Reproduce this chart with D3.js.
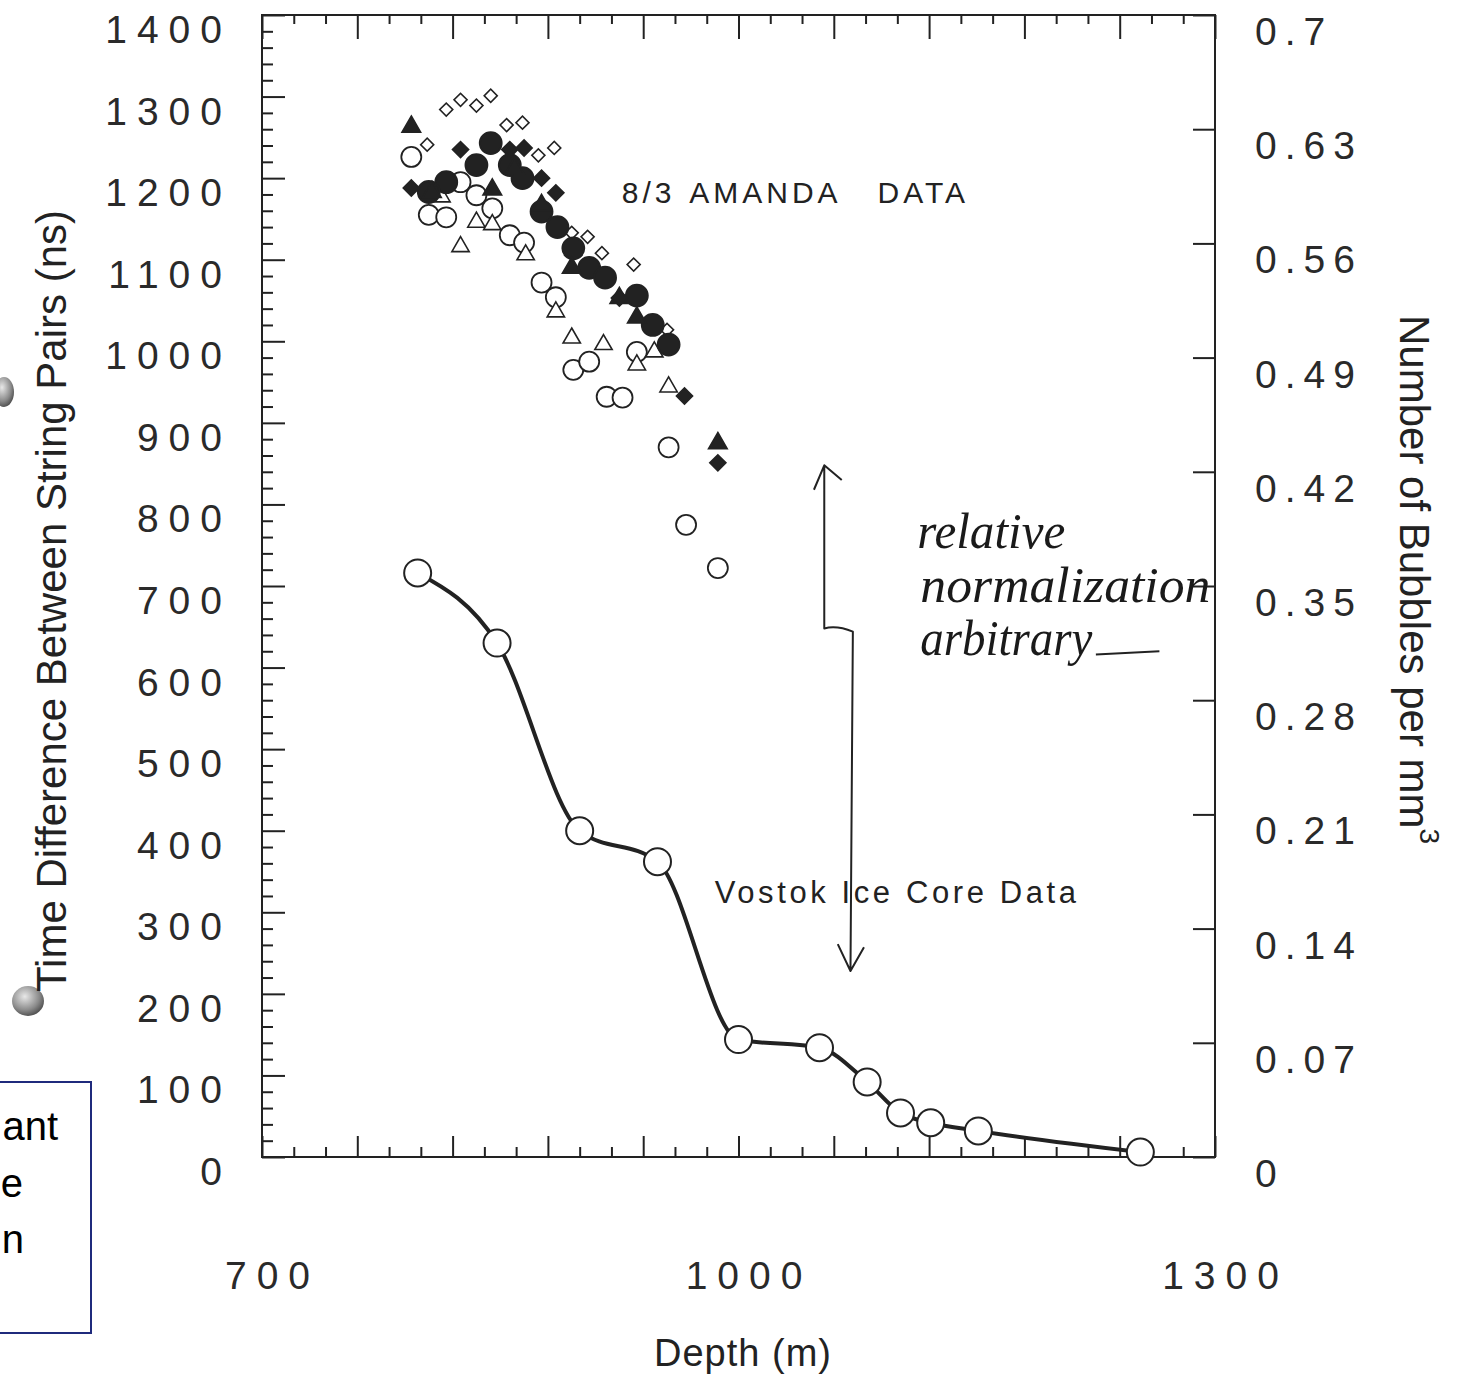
<!DOCTYPE html>
<html><head><meta charset="utf-8">
<script src="https://cdn.jsdelivr.net/npm/d3@7"></script>
<style>body{margin:0;background:#fff}svg{display:block}</style>
</head><body>
<script>
// ---------- data ----------
const depthTickLabels = [700, 1000, 1300];
const timeTickLabels = [0,100,200,300,400,500,600,700,800,900,1000,1100,1200,1300,1400];
const bubbleTickLabels = ["0","0.07","0.14","0.21","0.28","0.35","0.42","0.49","0.56","0.63","0.7"];

// Vostok ice core (bubbles per mm^3, right axis)
const vostokDepth   = [798, 848, 900, 949, 1000, 1051, 1081, 1102, 1121, 1151, 1253];
const vostokBubbles = [0.358, 0.315, 0.200, 0.181, 0.072, 0.067, 0.046, 0.027, 0.021, 0.016, 0.003];

// AMANDA 8/3 data (time difference, ns, left axis)
const openDiamondDepth = [816, 825, 835, 844, 804, 854, 864, 874, 884, 895, 905, 914, 934, 955];
const openDiamondNs    = [1284, 1296, 1289, 1301, 1241, 1265, 1268, 1228, 1237, 1133, 1128, 1108, 1094, 1014];

const filledDiamondDepth = [794, 825, 856, 865, 876, 885, 925, 966, 987];
const filledDiamondNs    = [1188, 1235, 1235, 1237, 1200, 1182, 1053, 933, 851];

const filledCircleDepth = [816, 805, 844, 835, 856, 864, 876, 886, 896, 906, 916, 936, 946, 956];
const filledCircleNs    = [1195, 1183, 1243, 1216, 1216, 1200, 1159, 1140, 1114, 1090, 1078, 1056, 1020, 996];

const filledTriangleDepth = [794, 807, 845, 859, 876, 895, 925, 936, 987];
const filledTriangleNs    = [1263, 1183, 1186, 1212, 1167, 1090, 1053, 1029, 875];

const openCircleDepth = [794, 805, 816, 825, 835, 845, 856, 865, 876, 885, 896, 906, 917, 927, 936, 956, 967, 987];
const openCircleNs    = [1226, 1155, 1152, 1195, 1179, 1163, 1130, 1121, 1072, 1054, 965, 975, 932, 931, 987, 870, 775, 722];

const openTriangleDepth = [813, 825, 835, 845, 866, 885, 895, 915, 936, 947, 956];
const openTriangleNs    = [1177, 1116, 1146, 1143, 1106, 1036, 1004, 996, 971, 987, 944];

// ---------- layout ----------
const W = 1460, H = 1376;
const ink = "#222";
const font = "'Liberation Sans', Arial, Helvetica, sans-serif";

const x  = d3.scaleLinear().domain([700, 1300]).range([262, 1215]);
const y  = d3.scaleLinear().domain([0, 1400]).range([1157, 15]);
const y2 = d3.scaleLinear().domain([0, 0.7]).range([1157, 15]);

const svg = d3.select("body").append("svg").attr("width", W).attr("height", H)
  .style("background", "#fff");

// scanner shading blobs at the left edge
const defs = svg.append("defs");
const rg = defs.append("radialGradient").attr("id", "blob").attr("cx", "40%").attr("cy", "35%").attr("r", "65%");
rg.append("stop").attr("offset", "0%").attr("stop-color", "#e8e8e8");
rg.append("stop").attr("offset", "70%").attr("stop-color", "#8a8a8a");
rg.append("stop").attr("offset", "100%").attr("stop-color", "#555");
svg.append("ellipse").attr("cx", 4).attr("cy", 392).attr("rx", 10).attr("ry", 15).attr("fill", "url(#blob)");
svg.append("ellipse").attr("cx", 28).attr("cy", 1001).attr("rx", 16).attr("ry", 15).attr("fill", "url(#blob)");

// frame
svg.append("rect")
  .attr("x", x(700)).attr("y", y(1400))
  .attr("width", x(1300) - x(700)).attr("height", y(0) - y(1400))
  .attr("fill", "none").attr("stroke", ink).attr("stroke-width", 2);

function tickAxis(axis, tx, ty) {
  const g = svg.append("g").attr("transform", `translate(${tx},${ty})`).call(axis);
  g.select(".domain").remove();
  g.selectAll("line").attr("stroke", ink).attr("stroke-width", 2);
  g.selectAll("text").remove();
  return g;
}
const minorTime = d3.range(0, 1401, 20).filter(v => v % 100 !== 0);
tickAxis(d3.axisRight(y).tickValues(minorTime).tickSize(11).tickFormat(""), x(700), 0);
tickAxis(d3.axisRight(y).tickValues(timeTickLabels).tickSize(23).tickFormat(""), x(700), 0);
const bubbleVals = bubbleTickLabels.map(Number);
tickAxis(d3.axisLeft(y2).tickValues(bubbleVals).tickSize(22).tickFormat(""), x(1300), 0);
const depthMinor = d3.range(700, 1301, 20).filter(v => (v - 700) % 60 !== 0);
const depthMajor = d3.range(700, 1301, 60);
tickAxis(d3.axisTop(x).tickValues(depthMinor).tickSize(10).tickFormat(""), 0, y(0));
tickAxis(d3.axisTop(x).tickValues(depthMajor).tickSize(21).tickFormat(""), 0, y(0));
tickAxis(d3.axisBottom(x).tickValues(depthMinor).tickSize(9).tickFormat(""), 0, y(1400));
tickAxis(d3.axisBottom(x).tickValues(depthMajor).tickSize(24).tickFormat(""), 0, y(1400));

// tick labels
const ls = 10;
const gl = svg.append("g").attr("transform", `translate(${x(700)},0)`)
  .call(d3.axisLeft(y).tickValues(timeTickLabels).tickSize(0).tickPadding(40 - ls)
    .tickFormat(d3.format("d")));
gl.select(".domain").remove();
gl.selectAll("text").attr("font-family", font).attr("font-size", 39).attr("fill", "#2a2a2a")
  .attr("letter-spacing", ls).attr("dy", "0.32em").attr("y", 15);

const gr = svg.append("g").attr("transform", `translate(${x(1300)},0)`)
  .call(d3.axisRight(y2).tickValues(bubbleVals).tickSize(0).tickPadding(40)
    .tickFormat((d, i) => bubbleTickLabels[i]));
gr.select(".domain").remove();
gr.selectAll("text").attr("font-family", font).attr("font-size", 39).attr("fill", "#2a2a2a")
  .attr("letter-spacing", 8).attr("dy", "0.32em").attr("y", 17);

const gb = svg.append("g").attr("transform", `translate(0,${y(0)})`)
  .call(d3.axisBottom(x).tickValues(depthTickLabels).tickSize(0).tickPadding(104)
    .tickFormat(d3.format("d")));
gb.select(".domain").remove();
gb.selectAll("text").attr("font-family", font).attr("font-size", 39).attr("fill", "#2a2a2a")
  .attr("letter-spacing", ls).attr("dx", ls / 2 + 5);

// axis titles
svg.append("text")
  .attr("transform", `translate(66,${(y(0) + y(1400)) / 2 + 15}) rotate(-90)`)
  .attr("text-anchor", "middle").attr("font-family", font).attr("font-size", 42).attr("fill", ink)
  .text("Time Difference Between String Pairs (ns)");

const rt = svg.append("text")
  .attr("transform", `translate(1400,315) rotate(90)`)
  .attr("font-family", font).attr("font-size", 42).attr("fill", ink);
rt.append("tspan").text("Number of Bubbles per mm");
rt.append("tspan").attr("font-size", 28).attr("dy", -20).text("3");

svg.append("text")
  .attr("x", 743).attr("y", 1366).attr("text-anchor", "middle")
  .attr("font-family", font).attr("font-size", 38).attr("letter-spacing", 1).attr("fill", ink)
  .text("Depth  (m)");

// Vostok curve
const vostok = vostokDepth.map((d, i) => [d, vostokBubbles[i]]);
svg.append("path").datum(vostok)
  .attr("d", d3.line().x(d => x(d[0])).y(d => y2(d[1])).curve(d3.curveMonotoneX))
  .attr("fill", "none").attr("stroke", ink).attr("stroke-width", 4);
svg.append("g").selectAll("circle").data(vostok).join("circle")
  .attr("cx", d => x(d[0])).attr("cy", d => y2(d[1])).attr("r", 13.5)
  .attr("fill", "#fff").attr("stroke", ink).attr("stroke-width", 2);

// AMANDA symbols
function pairs(a, b) { return a.map((d, i) => [d, b[i]]); }
function circles(data, r, filled) {
  svg.append("g").selectAll("circle").data(data).join("circle")
    .attr("cx", d => x(d[0])).attr("cy", d => y(d[1])).attr("r", r)
    .attr("fill", filled ? ink : "#fff").attr("stroke", ink).attr("stroke-width", 1.8);
}
function symbols(data, type, size, rot, filled) {
  svg.append("g").selectAll("path").data(data).join("path")
    .attr("d", d3.symbol().type(type).size(size))
    .attr("transform", d => `translate(${x(d[0])},${y(d[1])}) rotate(${rot})`)
    .attr("fill", filled ? ink : "#fff").attr("stroke", ink).attr("stroke-width", 1.6);
}
circles(pairs(openCircleDepth, openCircleNs), 10, false);
symbols(pairs(openTriangleDepth, openTriangleNs), d3.symbolTriangle, 130, 0, false);
symbols(pairs(openDiamondDepth, openDiamondNs), d3.symbolSquare, 85, 45, false);
circles(pairs(filledCircleDepth, filledCircleNs), 11, true);
symbols(pairs(filledTriangleDepth, filledTriangleNs), d3.symbolTriangle, 150, 0, true);
symbols(pairs(filledDiamondDepth, filledDiamondNs), d3.symbolSquare, 130, 45, true);

// annotations
function label(txt, dx, ny, fs, lsp) {
  svg.append("text").attr("x", x(dx)).attr("y", y(ny))
    .attr("font-family", font).attr("font-size", fs).attr("letter-spacing", lsp)
    .attr("fill", ink).text(txt);
}
label("8/3", 926.5, 1169, 30, 4);
label("AMANDA", 969, 1169, 30, 4);
label("DATA", 1087.5, 1169, 30, 4);
label("Vostok Ice Core Data", 985, 311, 31, 3.6);

// hand-drawn double arrow
const arrow = d3.path();
arrow.moveTo(x(1054), y(848));
arrow.lineTo(x(1054), y(648));
arrow.quadraticCurveTo(x(1062), y(652), x(1072), y(644));
arrow.lineTo(x(1070.5), y(228));
arrow.moveTo(x(1047.5), y(818)); arrow.lineTo(x(1054), y(848)); arrow.lineTo(x(1065), y(830));
arrow.moveTo(x(1062.5), y(261)); arrow.lineTo(x(1070.5), y(228)); arrow.lineTo(x(1079), y(257));
svg.append("path").attr("d", arrow.toString()).attr("fill", "none")
  .attr("stroke", ink).attr("stroke-width", 2).attr("stroke-linejoin", "round");

// handwritten note
const hand = "'Liberation Serif', 'DejaVu Serif', serif";
function hw(txt, dx, ny, len) {
  svg.append("text").attr("x", x(dx)).attr("y", y(ny))
    .attr("font-family", hand).attr("font-style", "italic").attr("font-size", 50)
    .attr("textLength", len).attr("lengthAdjust", "spacingAndGlyphs")
    .attr("fill", "#1a1a1a").text(txt);
}
hw("relative", 1112.5, 746, 148);
hw("normalization", 1114.5, 680, 290);
hw("arbitrary", 1114.5, 616, 172);
svg.append("path")
  .attr("d", d3.line()([[x(1225), y(616)], [x(1265), y(620)]]))
  .attr("stroke", ink).attr("stroke-width", 2).attr("fill", "none");

// leftover slide text box
svg.append("rect").attr("x", -5).attr("y", 1082).attr("width", 96).attr("height", 251)
  .attr("fill", "none").attr("stroke", "#1f2a7c").attr("stroke-width", 2);
[["ant", 58, 1140], ["e", 23, 1197], ["n", 24, 1253]].forEach(([t, px, py]) => {
  svg.append("text").attr("x", px).attr("y", py).attr("text-anchor", "end")
    .attr("font-family", font).attr("font-size", 40).attr("fill", "#000").text(t);
});
</script>
</body></html>
